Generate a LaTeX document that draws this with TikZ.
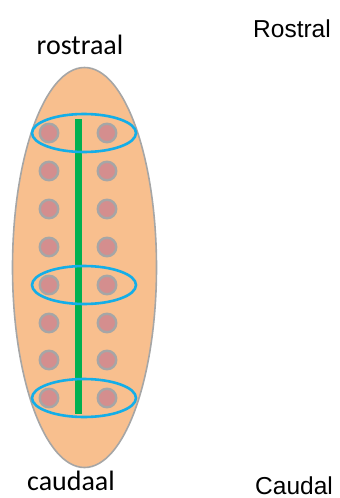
\documentclass[tikz,border=0pt]{standalone}
\usepackage{fontspec}
\usepackage{tikz}
\usetikzlibrary{positioning,calc}
\newfontfamily\calibfont{Carlito}
\newfontfamily\arialfont{Liberation Sans}
\definecolor{skin}{HTML}{F8BF8E}
\definecolor{rim}{HTML}{A6A6A6}
\definecolor{cellfill}{HTML}{D48E8E}
\definecolor{ringblue}{HTML}{14AEE8}
\definecolor{axisgreen}{HTML}{00B050}
\tikzset{
  body/.style={draw=rim,fill=skin,line width=1.6pt},
  cell/.style={circle,draw=rim,fill=cellfill,line width=2.4pt,minimum size=18.5pt,inner sep=0pt},
  ring/.style={draw=ringblue,line width=2.6pt},
  axis/.style={draw=axisgreen,line width=7pt},
  dutch/.style={font=\calibfont\fontsize{28}{33}\selectfont,text=black,inner sep=0pt},
  english/.style={font=\arialfont\fontsize{24.5}{29}\selectfont,text=black,inner sep=0pt}
}
\begin{document}
\begin{tikzpicture}[x=1pt,y=-1pt]
    \useasboundingbox (0,0) rectangle (340,498);
    \draw[body] (84.5,267.5) ellipse [x radius=72, y radius=200];

    % two columns of cells
    \foreach \i/\yy in {1/133,2/171,3/209,4/247,5/285,6/323,7/360,8/398} {
      \node[cell] (l\i) at (49,\yy) {};
      \node[cell] (r\i) at (107,\yy) {};
    }

    \coordinate (top) at (78.5,119);
    \coordinate (bot) at (78.5,414);
    \draw[axis] (top) -- (bot);

    \foreach \i in {1,5,8}
      \draw[ring] ($(l\i)!0.5!(r\i)+(6,0)$) ellipse [x radius=52, y radius=19];

    \node[dutch,anchor=base] (rostraal) at (80,54) {rostraal};
    \node[dutch,anchor=base] (caudaal) at (71,490) {caudaal};
    \node[english,anchor=base west] (rostral) at (253,37) {Rostral};
    \node[english,anchor=base west] (caudal) at (255,494) {Caudal};
  \end{tikzpicture}
\end{document}
